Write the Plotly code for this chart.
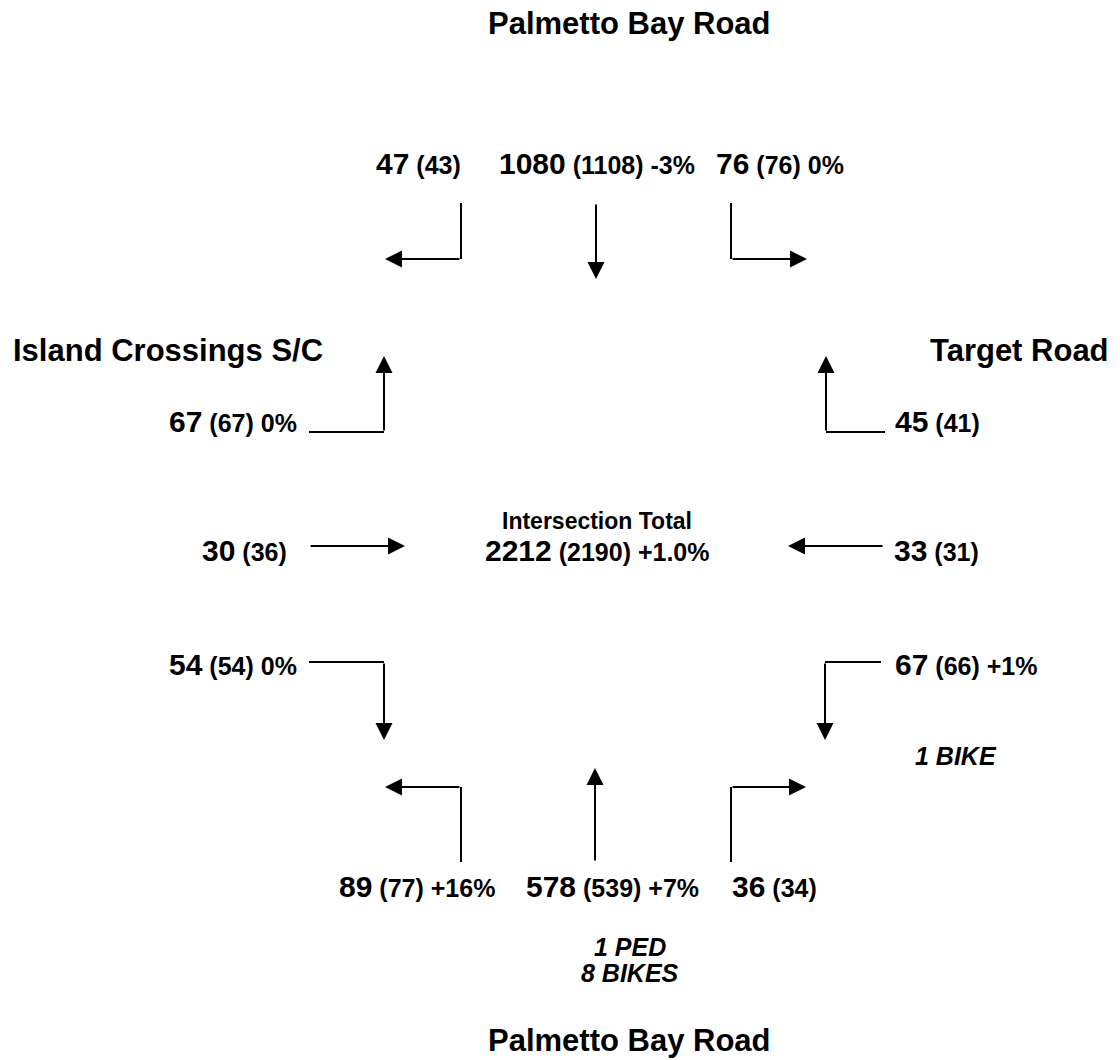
import plotly.graph_objects as go

# ---------------- data ----------------
road_north = "Palmetto Bay Road"
road_south = "Palmetto Bay Road"
road_west = "Island Crossings S/C"
road_east = "Target Road"

movements = ["SB Right", "SB Thru", "SB Left",
             "EB Left", "EB Thru", "EB Right",
             "WB Right", "WB Thru", "WB Left",
             "NB Left", "NB Thru", "NB Right"]
count_current = [47, 1080, 76, 67, 30, 54, 45, 33, 67, 89, 578, 36]
count_previous = [43, 1108, 76, 67, 36, 54, 41, 31, 66, 77, 539, 34]
pct_change = ["", "-3%", "0%", "0%", "", "0%", "", "", "+1%", "+16%", "+7%", ""]

total_title = "Intersection Total"
total_current = 2212
total_previous = 2190
total_change = "+1.0%"

note_east = ["1 BIKE"]
note_south = ["1 PED", "8 BIKES"]

# ---------------- layout geometry (pixel canvas) ----------------
W, H = 1120, 1060
geom = {
    "SB Right": dict(label=(463, 163, "right"), path=[(461, 203), (461, 259), (385, 259)]),
    "SB Thru":  dict(label=(597, 163, "center"), path=[(596, 203), (596, 279)]),
    "SB Left":  dict(label=(714, 163, "left"), path=[(731, 203), (731, 259), (807, 259)]),
    "EB Left":  dict(label=(299, 421, "right"), path=[(309, 432), (384, 432), (384, 356)]),
    "EB Thru":  dict(label=(289, 550, "right"), path=[(309, 546), (405, 546)]),
    "EB Right": dict(label=(299, 664, "right"), path=[(309, 662), (384, 662), (384, 740)]),
    "WB Right": dict(label=(893, 421, "left"), path=[(885, 432), (826, 432), (826, 356)]),
    "WB Thru":  dict(label=(892, 550, "left"), path=[(884, 546), (788, 546)]),
    "WB Left":  dict(label=(893, 664, "left"), path=[(881, 662), (825, 662), (825, 740)]),
    "NB Left":  dict(label=(497, 886, "right"), path=[(461, 862), (461, 787), (385, 787)]),
    "NB Thru":  dict(label=(612, 886, "center"), path=[(595, 862), (595, 768)]),
    "NB Right": dict(label=(730, 886, "left"), path=[(731, 862), (731, 787), (806, 787)]),
}
title_pos = {"north": (629, 23.5, "center"), "south": (629, 1040, "center"),
             "west": (11, 350, "left"), "east": (1111, 350, "right")}
note_east_pos = [(956, 756)]
note_south_pos = [(630, 947), (630, 973)]

FONT = "Liberation Sans, Arial, sans-serif"
BIG, SMALL, TITLE, NOTE = 30, 25, 31, 25
LW = 2

fig = go.Figure()
fig.update_layout(
    width=W, height=H, margin=dict(l=0, r=0, t=0, b=0),
    paper_bgcolor="white", plot_bgcolor="white", showlegend=False,
    xaxis=dict(range=[0, W], visible=False, fixedrange=True),
    yaxis=dict(range=[H, 0], visible=False, fixedrange=True),
    font=dict(family=FONT, color="black"),
)

shapes = []
annotations = []


def text_ann(x, y, text, anchor, size):
    return dict(x=x, y=y, xref="x", yref="y", text=text, showarrow=False,
                xanchor=anchor, yanchor="middle",
                font=dict(size=size, family=FONT, color="black"))


def label_text(cur, prev, pct):
    t = f"<span style='font-size:{BIG}px'>{cur}</span> ({prev})"
    if pct:
        t += f" {pct}"
    return f"<b>{t}</b>"


for name, cur, prev, pct in zip(movements, count_current, count_previous, pct_change):
    g = geom[name]
    lx, ly, anc = g["label"]
    annotations.append(text_ann(lx, ly, label_text(cur, prev, pct), anc, SMALL))
    pts = g["path"]
    for (x0, y0), (x1, y1) in zip(pts[:-2], pts[1:-1]):
        shapes.append(dict(type="line", xref="x", yref="y", x0=x0, y0=y0, x1=x1, y1=y1,
                           line=dict(color="black", width=LW)))
    (ax, ay), (tx, ty) = pts[-2], pts[-1]
    annotations.append(dict(x=tx, y=ty, ax=ax, ay=ay, xref="x", yref="y", axref="x", ayref="y",
                            text="", showarrow=True, arrowhead=2, arrowsize=1.7, arrowwidth=LW,
                            arrowcolor="black", standoff=0, startstandoff=0))

# road names
for key, name in zip(["north", "south", "west", "east"], [road_north, road_south, road_west, road_east]):
    x, y, anc = title_pos[key]
    annotations.append(text_ann(x, y, f"<b>{name}</b>", anc, TITLE))

# intersection total
annotations.append(text_ann(597, 521, f"<b>{total_title}</b>", "center", 23))
annotations.append(text_ann(597, 550,
                            f"<b><span style='font-size:{BIG}px'>{total_current}</span> ({total_previous}) {total_change}</b>",
                            "center", SMALL))

# notes
for (x, y), t in zip(note_east_pos, note_east):
    annotations.append(text_ann(x, y, f"<b><i>{t}</i></b>", "center", NOTE))
for (x, y), t in zip(note_south_pos, note_south):
    annotations.append(text_ann(x, y, f"<b><i>{t}</i></b>", "center", NOTE))

fig.update_layout(shapes=shapes, annotations=annotations)
# remove the browser's default 8px page margin so the 1120x1060 figure fills the window
fig.write_html("out.html", config={"displayModeBar": False, "staticPlot": True},
               post_script="document.body.style.margin='0';")
